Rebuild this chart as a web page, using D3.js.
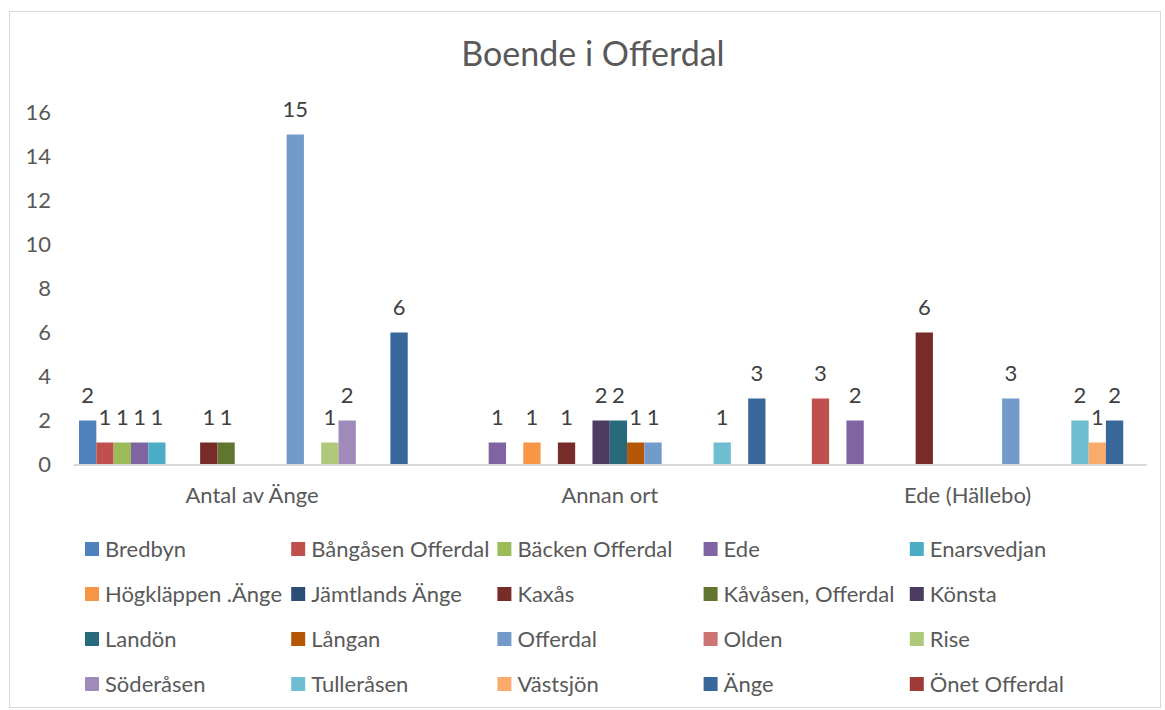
<!DOCTYPE html>
<html>
<head>
<meta charset="utf-8">
<script src="https://cdn.jsdelivr.net/npm/d3@7/dist/d3.min.js"></script>
<style>
  html, body { margin: 0; padding: 0; background: #ffffff; }
  svg { display: block; font-family: Lato, "Open Sans", sans-serif; }
</style>
</head>
<body>
<svg id="chart" width="1165" height="710"></svg>
<script>
const title = "Boende i Offerdal";
const categories = ["Antal av Änge", "Annan ort", "Ede (Hällebo)"];
const seriesNames = [
  "Bredbyn", "Bångåsen Offerdal", "Bäcken Offerdal", "Ede", "Enarsvedjan",
  "Högkläppen .Änge", "Jämtlands Änge", "Kaxås", "Kåvåsen, Offerdal", "Könsta",
  "Landön", "Långan", "Offerdal", "Olden", "Rise",
  "Söderåsen", "Tulleråsen", "Västsjön", "Änge", "Önet Offerdal"
];
// values per series, in category order (null = no bar)
const bredbyn          = [2, null, null];
const bangasenOfferdal = [1, null, 3];
const backenOfferdal   = [1, null, null];
const ede              = [1, 1, 2];
const enarsvedjan      = [1, null, null];
const hogklappenAnge   = [null, 1, null];
const jamtlandsAnge    = [null, null, null];
const kaxas            = [1, 1, 6];
const kavasenOfferdal  = [1, null, null];
const konsta           = [null, 2, null];
const landon           = [null, 2, null];
const langan           = [null, 1, null];
const offerdal         = [15, 1, 3];
const olden            = [null, null, null];
const rise             = [1, null, null];
const soderasen        = [2, null, null];
const tullerasen       = [null, 1, 2];
const vastsjon         = [null, null, 1];
const ange             = [6, 3, 2];
const onetOfferdal     = [null, null, null];
const seriesValues = [
  bredbyn, bangasenOfferdal, backenOfferdal, ede, enarsvedjan,
  hogklappenAnge, jamtlandsAnge, kaxas, kavasenOfferdal, konsta,
  landon, langan, offerdal, olden, rise,
  soderasen, tullerasen, vastsjon, ange, onetOfferdal
];
const colors = [
  "#4F81BD", "#C0504D", "#9BBB59", "#8064A2", "#4BACC6",
  "#F79646", "#2C4D75", "#772C2A", "#5F7530", "#4D3B62",
  "#276A7C", "#B65708", "#729ACA", "#CD7371", "#AFC97A",
  "#9F8AB9", "#6FBDD1", "#F9AB6B", "#3A6799", "#9E3B39"
];
const yTicks = [0, 2, 4, 6, 8, 10, 12, 14, 16];

const svg = d3.select("#chart");
const textColor = "#595959";
const fontFam = "Lato, 'Open Sans', sans-serif";

// chart border
svg.append("rect")
  .attr("x", 9.5).attr("y", 11.5).attr("width", 1151).attr("height", 696)
  .attr("fill", "#fff").attr("stroke", "#D9D9D9").attr("stroke-width", 1);

// title
svg.append("text")
  .attr("x", 593).attr("y", 66)
  .attr("text-anchor", "middle")
  .attr("font-size", 34)
  .attr("fill", textColor)
  .text(title);

const x0 = d3.scaleBand().domain(categories).range([73.15, 1146.4]).padding(0);
const x1 = d3.scaleBand().domain(seriesNames).range([0, x0.bandwidth()])
  .paddingInner(0).paddingOuter(0.34);
const y = d3.scaleLinear().domain([0, 16]).range([464.5, 112.5]);
const color = d3.scaleOrdinal().domain(seriesNames).range(colors);

// y axis labels
const yAxis = svg.append("g")
  .attr("transform", "translate(73,0)")
  .call(d3.axisLeft(y).tickValues(yTicks).tickSize(0).tickPadding(22));
yAxis.select(".domain").remove();
yAxis.selectAll("text")
  .attr("fill", textColor).attr("font-size", 22)
  .attr("font-family", fontFam);

// flatten data
const barData = [];
seriesNames.forEach((s, si) => {
  seriesValues[si].forEach((v, ci) => {
    if (v !== null) barData.push({ series: s, category: categories[ci], value: v });
  });
});

// bars
svg.append("g").selectAll("rect")
  .data(barData)
  .join("rect")
  .attr("x", d => x0(d.category) + x1(d.series))
  .attr("y", d => y(d.value))
  .attr("width", x1.bandwidth())
  .attr("height", d => y(0) - y(d.value))
  .attr("fill", d => color(d.series));

// data labels
svg.append("g").selectAll("text")
  .data(barData)
  .join("text")
  .attr("x", d => x0(d.category) + x1(d.series) + x1.bandwidth() / 2)
  .attr("y", d => y(d.value) - 18)
  .attr("text-anchor", "middle")
  .attr("font-size", 22)
  .attr("fill", "#404040")
  .text(d => d.value);

// x axis
const xAxis = svg.append("g")
  .attr("transform", `translate(0,${y(0)})`)
  .call(d3.axisBottom(x0).tickSize(0).tickPadding(23));
xAxis.select(".domain").attr("stroke", "#D9D9D9").attr("stroke-width", 2);
xAxis.selectAll("text")
  .attr("fill", textColor).attr("font-size", 22)
  .attr("font-family", fontFam);

// legend
const legend = svg.append("g");
const legItems = legend.selectAll("g")
  .data(seriesNames)
  .join("g")
  .attr("transform", (d, i) => `translate(${85 + (i % 5) * 206.2},${549 + Math.floor(i / 5) * 45})`);
legItems.append("rect")
  .attr("x", 0).attr("y", -7).attr("width", 14).attr("height", 14)
  .attr("fill", d => color(d));
legItems.append("text")
  .attr("x", 20).attr("y", 7.5)
  .attr("font-size", 22)
  .attr("fill", textColor)
  .text(d => d);
</script>
</body>
</html>
